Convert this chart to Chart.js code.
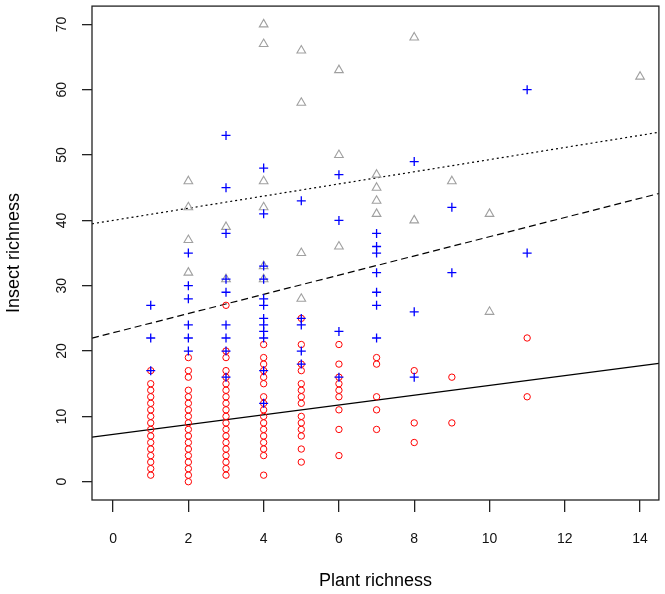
<!DOCTYPE html>
<html>
<head>
<meta charset="utf-8">
<script src="https://cdn.jsdelivr.net/npm/chart.js@4/dist/chart.umd.min.js"></script>
<style>
  body { margin: 0; background: #fff; }
  #wrap { width: 665px; height: 594px; }
</style>
</head>
<body>
<div id="wrap"><canvas id="plot"></canvas></div>
<script>
// plant richness values (x) and insect richness at each (y), per group
const circleX = [1, 2, 3, 4, 5, 6, 7, 8, 9, 11];
const circleY = [
  [1, 2, 3, 4, 5, 6, 7, 8, 9, 10, 11, 12, 13, 14, 15, 17],
  [0, 1, 2, 3, 4, 5, 6, 7, 8, 9, 10, 11, 12, 13, 14, 16, 17, 19],
  [1, 2, 3, 4, 5, 6, 7, 8, 9, 10, 11, 12, 13, 14, 15, 16, 17, 19, 20, 27],
  [1, 4, 5, 6, 7, 8, 9, 10, 11, 12, 13, 15, 16, 17, 18, 19, 21],
  [3, 5, 7, 8, 9, 10, 12, 13, 14, 15, 17, 18, 21, 25],
  [4, 8, 11, 13, 14, 15, 16, 18, 21],
  [8, 11, 13, 18, 19],
  [6, 9, 17],
  [9, 16],
  [13, 22]
];

const plusX = [1, 2, 3, 4, 5, 6, 7, 8, 9, 11];
const plusY = [
  [17, 22, 27],
  [20, 22, 24, 28, 30, 35],
  [16, 20, 22, 24, 29, 31, 38, 45, 53],
  [12, 17, 22, 23, 24, 25, 27, 28, 31, 33, 41, 48],
  [18, 20, 24, 25, 43],
  [16, 23, 40, 47],
  [22, 27, 29, 32, 35, 36, 38],
  [16, 26, 49],
  [32, 42],
  [35, 60]
];

const triX = [2, 3, 4, 5, 6, 7, 8, 9, 10, 14];
const triY = [
  [32, 37, 42, 46],
  [31, 39],
  [31, 33, 42, 46, 67, 70],
  [28, 35, 58, 66],
  [36, 50, 63],
  [41, 43, 45, 47],
  [40, 68],
  [46],
  [26, 41],
  [62]
];

// fitted lines: solid, dashed, dotted
const lineIntercept = [7.25, 22.8, 40.0];
const lineSlope = [0.75, 1.47, 0.93];
const lineDash = [[], [7, 4], [2, 3]];

const xTicks = [0, 2, 4, 6, 8, 10, 12, 14];
const yTicks = [0, 10, 20, 30, 40, 50, 60, 70];
const xMin = -0.56, xMax = 14.5;
const yMin = -2.8, yMax = 72.8;

function toPoints(xs, ys) {
  const pts = [];
  xs.forEach((x, i) => ys[i].forEach(y => pts.push({ x: x, y: y })));
  return pts;
}

const lineSets = lineIntercept.map((a, i) => ({
  data: [{ x: xMin, y: a + lineSlope[i] * xMin }, { x: xMax, y: a + lineSlope[i] * xMax }],
  showLine: true,
  borderColor: '#000',
  borderWidth: 1.2,
  borderDash: lineDash[i],
  pointRadius: 0,
  order: 5
}));

const boxPlugin = {
  id: 'box',
  afterDraw(chart) {
    const a = chart.chartArea;
    const ctx = chart.ctx;
    ctx.save();
    ctx.strokeStyle = '#222';
    ctx.lineWidth = 1.3;
    ctx.strokeRect(a.left, a.top, a.right - a.left, a.bottom - a.top);
    ctx.restore();
  }
};

const font = { family: "'Liberation Sans', Arial, sans-serif", size: 14 };

new Chart(document.getElementById('plot'), {
  type: 'scatter',
  data: {
    datasets: [
      {
        data: toPoints(plusX, plusY),
        pointStyle: 'cross',
        pointRadius: 4.5,
        pointBorderWidth: 1.3,
        borderColor: '#0000ff',
        backgroundColor: '#0000ff',
        order: 1
      },
      {
        data: toPoints(circleX, circleY),
        pointStyle: 'circle',
        pointRadius: 3.2,
        pointBorderWidth: 1,
        borderColor: '#ff0000',
        backgroundColor: 'rgba(0,0,0,0)',
        order: 2
      },
      {
        data: toPoints(triX, triY),
        pointStyle: 'triangle',
        pointRadius: 5,
        pointBorderWidth: 1.1,
        borderColor: '#a0a0a0',
        backgroundColor: 'rgba(0,0,0,0)',
        order: 3
      },
      ...lineSets
    ]
  },
  options: {
    responsive: true,
    maintainAspectRatio: false,
    animation: false,
    layout: { padding: { top: 3, right: 4, left: 0, bottom: 0 } },
    plugins: { legend: { display: false }, tooltip: { enabled: false } },
    scales: {
      x: {
        type: 'linear',
        min: xMin,
        max: xMax,
        afterBuildTicks: s => { s.ticks = xTicks.map(v => ({ value: v })); },
        afterFit: s => { s.height = 94; s.paddingLeft = 0; s.paddingRight = 0; },
        border: { display: false },
        grid: { drawOnChartArea: false, drawTicks: true, tickLength: 12, color: '#222', lineWidth: 1.3 },
        ticks: { font: font, color: '#111', padding: 19, maxRotation: 0 },
        title: {
          display: true, text: 'Plant richness', color: '#000',
          font: { family: font.family, size: 18, lineHeight: 1 },
          padding: { top: 0, bottom: 4 }
        }
      },
      y: {
        type: 'linear',
        min: yMin,
        max: yMax,
        afterBuildTicks: s => { s.ticks = yTicks.map(v => ({ value: v })); },
        afterFit: s => { s.width = 92; s.paddingTop = 0; s.paddingBottom = 0; },
        border: { display: false },
        grid: { drawOnChartArea: false, drawTicks: true, tickLength: 10, color: '#222', lineWidth: 1.3 },
        ticks: { font: font, color: '#111', padding: 12, minRotation: 90, maxRotation: 90, crossAlign: 'center' },
        title: {
          display: true, text: 'Insect richness', color: '#000',
          font: { family: font.family, size: 18, lineHeight: 1 },
          padding: { top: 5, bottom: 0 }
        }
      }
    }
  },
  plugins: [boxPlugin]
});
</script>
</body>
</html>
